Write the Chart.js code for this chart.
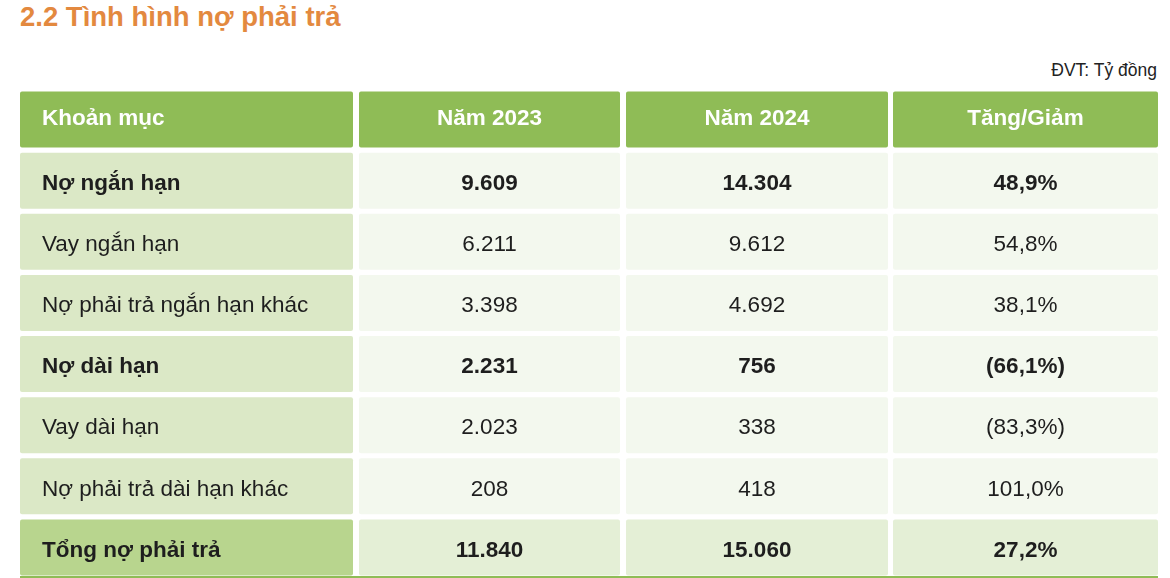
<!DOCTYPE html>
<html><head><meta charset="utf-8">
<script src="https://cdn.jsdelivr.net/npm/chart.js@4"></script>
<style>
body{margin:0;background:#fff;font-family:"Liberation Sans",Arial,sans-serif;width:1170px;height:578px;overflow:hidden;position:relative}
#title{position:absolute;left:20px;top:1px;font-size:27.5px;font-weight:bold;color:#E3893F}
#unit{position:absolute;right:13px;top:60px;font-size:17.5px;color:#222}
#wrap{position:absolute;left:20px;top:89px;width:1138px;height:489px}
</style></head><body>
<div id="title">2.2 Tình hình nợ phải trả</div>
<div id="unit">ĐVT: Tỷ đồng</div>
<div id="wrap"><canvas id="tbl"></canvas></div>
<script>
const headers = ['Khoản mục', 'Năm 2023', 'Năm 2024', 'Tăng/Giảm'];
const items = ['Nợ ngắn hạn', 'Vay ngắn hạn', 'Nợ phải trả ngắn hạn khác', 'Nợ dài hạn', 'Vay dài hạn', 'Nợ phải trả dài hạn khác', 'Tổng nợ phải trả'];
const nam2023 = ['9.609', '6.211', '3.398', '2.231', '2.023', '208', '11.840'];
const nam2024 = ['14.304', '9.612', '4.692', '756', '338', '418', '15.060'];
const tangGiam = ['48,9%', '54,8%', '38,1%', '(66,1%)', '(83,3%)', '101,0%', '27,2%'];
const boldRows = [true, false, false, true, false, false, true];

// column edges in the x-scale units (pixels of the table area)
const colEdges = [[0, 333], [339, 600], [606, 868], [873, 1138]];
const columns = [items, nam2023, nam2024, tangGiam];
const rowLabels = ['h'].concat(items.map((_, i) => 'r' + i));

function cellColor(col, row) {
  if (row === 0) return '#8FBC56';
  const last = row === rowLabels.length - 1;
  if (col === 0) return last ? '#B8D58E' : '#DBE8C6';
  return last ? '#E4EFD6' : '#F3F8EE';
}

const datasets = colEdges.map((e, c) => ({
  data: rowLabels.map(() => [e[0], e[1]]),
  backgroundColor: rowLabels.map((_, r) => cellColor(c, r)),
  borderRadius: 2, borderSkipped: false,
  barPercentage: 0.915, categoryPercentage: 1, grouped: false
}));

const textPlugin = {
  id: 'cellText',
  afterDatasetsDraw(chart) {
    const g = chart.ctx;
    g.save();
    g.textBaseline = 'middle';
    chart.data.datasets.forEach((ds, c) => {
      chart.getDatasetMeta(c).data.forEach((bar, r) => {
        let txt, bold, color = '#1e1e1e';
        if (r === 0) { txt = headers[c]; bold = true; color = '#fff'; }
        else { txt = columns[c][r - 1]; bold = boldRows[r - 1]; }
        g.font = (bold ? 'bold ' : '') + '22.5px "Liberation Sans", Arial, sans-serif';
        g.fillStyle = color;
        const ty = bar.y + (r === 0 ? -1 : 3);
        if (c === 0) { g.textAlign = 'left'; g.fillText(txt, bar.base + 22, ty); }
        else { g.textAlign = 'center'; g.fillText(txt, (bar.x + bar.base) / 2, ty); }
      });
    });
    const lastBar = chart.getDatasetMeta(0).data[rowLabels.length - 1];
    const yb = lastBar.y + lastBar.height / 2 + 2;
    g.strokeStyle = '#8FBC56'; g.lineWidth = 3;
    g.beginPath(); g.moveTo(chart.scales.x.left, yb); g.lineTo(chart.scales.x.right, yb); g.stroke();
    g.restore();
  }
};

new Chart(document.getElementById('tbl'), {
  type: 'bar',
  data: { labels: rowLabels, datasets },
  options: {
    indexAxis: 'y', responsive: true, maintainAspectRatio: false, animation: false,
    layout: { padding: 0 },
    scales: {
      x: { type: 'linear', min: 0, max: 1138, display: false },
      y: { display: false, offset: true }
    },
    plugins: { legend: { display: false }, tooltip: { enabled: false } }
  },
  plugins: [textPlugin]
});
</script>
</body></html>
